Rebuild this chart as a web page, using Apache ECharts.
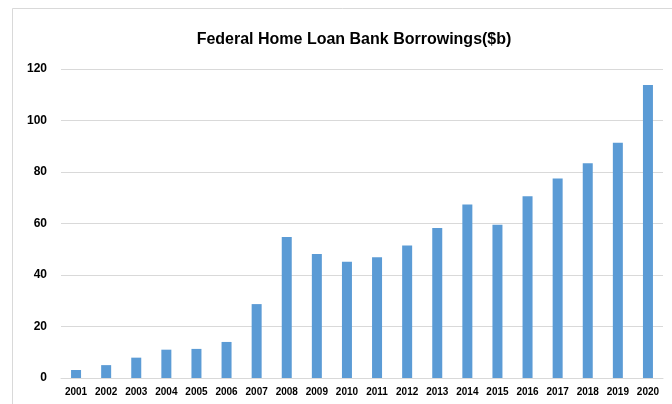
<!DOCTYPE html>
<html><head><meta charset="utf-8">
<script src="https://cdn.jsdelivr.net/npm/echarts@6/dist/echarts.min.js"></script>
<style>html,body{margin:0;padding:0;background:#fff}#c{width:672px;height:404px}</style>
</head><body><div id="c"></div>
<script>
const categories = ['2001','2002','2003','2004','2005','2006','2007','2008','2009','2010','2011','2012','2013','2014','2015','2016','2017','2018','2019','2020'];
const borrowings = [3.1, 5.0, 7.9, 11.0, 11.3, 14.0, 28.7, 54.8, 48.2, 45.1, 46.9, 51.5, 58.3, 67.4, 59.5, 70.6, 77.5, 83.4, 91.4, 113.8];
const yTicks = [0, 20, 40, 60, 80, 100, 120];

const chart = echarts.init(document.getElementById('c'));
chart.setOption({
  animation: false,
  backgroundColor: '#fff',
  graphic: [{
    type: 'rect', silent: true, z: -1,
    shape: {x: 12.5, y: 8.5, width: 700, height: 420},
    style: {fill: 'none', stroke: '#d9d9d9', lineWidth: 1}
  }],
  title: {
    text: 'Federal Home Loan Bank Borrowings($b)',
    left: 349, top: 27, textAlign: 'center',
    textStyle: {fontFamily: 'Liberation Sans', fontWeight: 'bold', fontSize: 16, color: '#000'}
  },
  grid: {left: 61, right: 9, top: 69, bottom: 26, containLabel: false},
  xAxis: {
    type: 'category', data: categories,
    axisLine: {lineStyle: {color: '#d9d9d9', width: 1}},
    axisTick: {show: false},
    axisLabel: {fontFamily: 'Liberation Sans', fontWeight: 'bold', fontSize: 10, color: '#000', margin: 9, interval: 0}
  },
  yAxis: {
    type: 'value', min: yTicks[0], max: yTicks[yTicks.length-1], interval: 20,
    axisLine: {show: false}, axisTick: {show: false},
    splitLine: {lineStyle: {color: '#d9d9d9', width: 1}},
    axisLabel: {fontFamily: 'Liberation Sans', fontWeight: 'bold', fontSize: 12, color: '#000', margin: 14}
  },
  series: [{
    type: 'bar', data: borrowings, barWidth: 10,
    itemStyle: {color: '#5b9bd5'}
  }]
});
</script></body></html>
